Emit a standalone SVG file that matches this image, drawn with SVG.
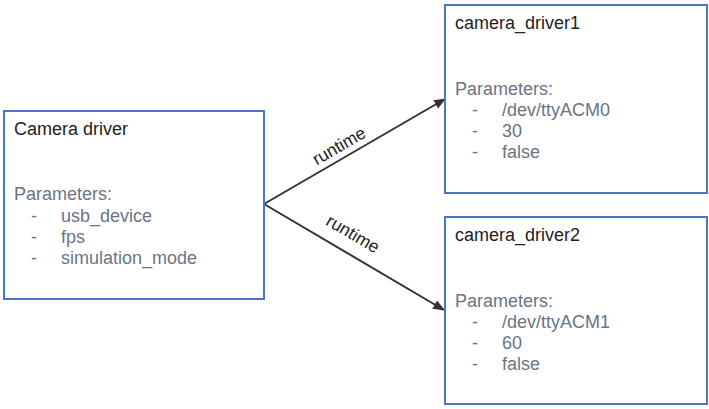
<svg xmlns="http://www.w3.org/2000/svg" width="709" height="409" viewBox="0 0 709 409">
<defs>
<style>
.box{fill:#fff;stroke:#4a76c8;stroke-width:2}
.title{font-family:"Liberation Sans",Arial,sans-serif;font-size:18px;fill:#222}
.param{font-family:"Liberation Sans",Arial,sans-serif;font-size:18px;fill:#6a7485}
.edge{stroke:#333;stroke-width:2;fill:none;marker-end:url(#arr)}
.lbl{font-family:"Liberation Sans",Arial,sans-serif;font-size:17.5px;fill:#222;text-anchor:middle}
</style>
<marker id="arr" viewBox="0 0 10 10" refX="9" refY="5" markerWidth="6" markerHeight="6" markerUnits="strokeWidth" orient="auto">
<path d="M0,1 L10,5 L0,9 z" fill="#333"/>
</marker>
</defs>
<rect width="709" height="409" fill="#fff"/>
<g id="connectors">
<line class="edge" x1="264" y1="204" x2="445" y2="99"/>
<line class="edge" x1="264" y1="204" x2="444" y2="310"/>
<text class="lbl" transform="translate(342,151) rotate(-30)">runtime</text>
<text class="lbl" transform="translate(350,239) rotate(30.5)">runtime</text>
</g>
<g id="camera_driver">
<rect class="box" x="4" y="111" width="260" height="188"/>
<text class="title" x="14" y="135">Camera driver</text>
<text class="param" x="14" y="200">Parameters:</text>
<text class="param" x="31" y="222">-</text><text class="param" x="61" y="222">usb_device</text>
<text class="param" x="31" y="243">-</text><text class="param" x="61" y="243">fps</text>
<text class="param" x="31" y="264">-</text><text class="param" x="61" y="264">simulation_mode</text>
</g>
<g id="camera_driver1">
<rect class="box" x="445" y="5" width="262" height="188"/>
<text class="title" x="455" y="29">camera_driver1</text>
<text class="param" x="455" y="95">Parameters:</text>
<text class="param" x="472" y="116">-</text><text class="param" x="502" y="116">/dev/ttyACM0</text>
<text class="param" x="472" y="137">-</text><text class="param" x="502" y="137">30</text>
<text class="param" x="472" y="158">-</text><text class="param" x="502" y="158">false</text>
</g>
<g id="camera_driver2">
<rect class="box" x="445" y="217" width="262" height="187"/>
<text class="title" x="455" y="241">camera_driver2</text>
<text class="param" x="455" y="307">Parameters:</text>
<text class="param" x="472" y="328">-</text><text class="param" x="502" y="328">/dev/ttyACM1</text>
<text class="param" x="472" y="349">-</text><text class="param" x="502" y="349">60</text>
<text class="param" x="472" y="370">-</text><text class="param" x="502" y="370">false</text>
</g>
</svg>
